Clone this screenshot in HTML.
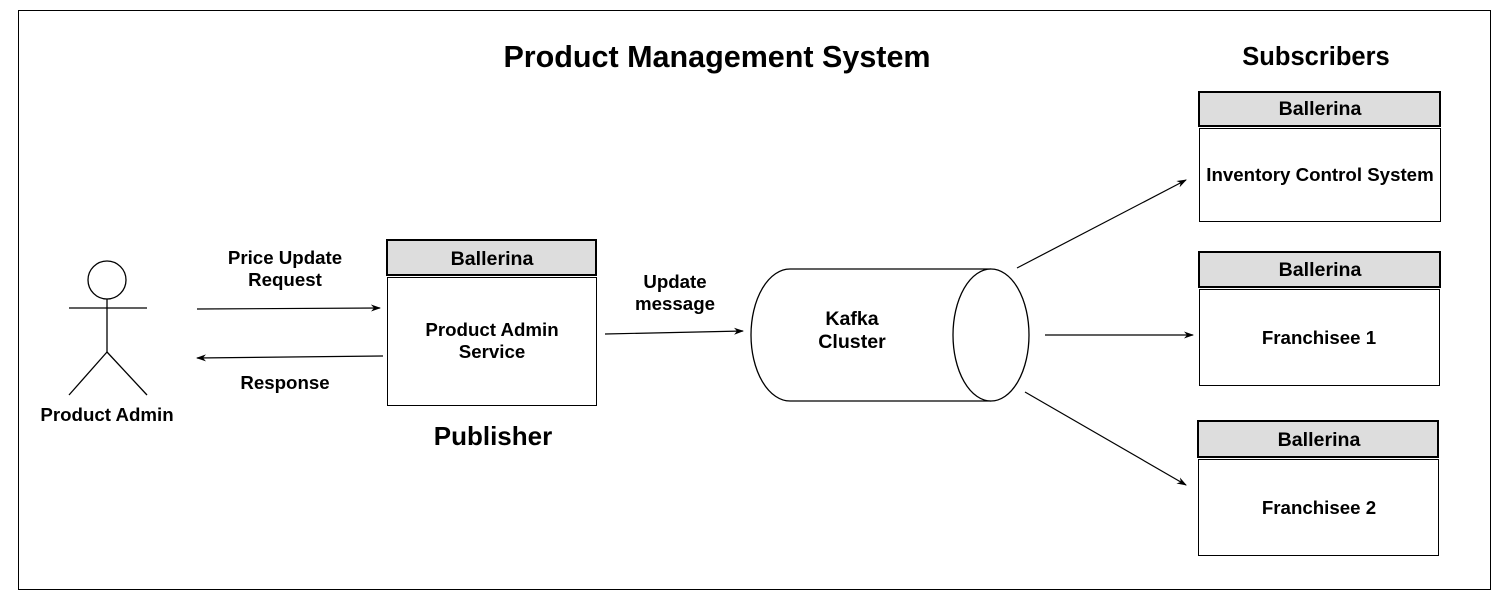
<!DOCTYPE html>
<html><head><meta charset="utf-8"><style>
html,body{margin:0;padding:0;background:#fff;}
svg{display:block;}
text{font-family:"Liberation Sans",Arial,sans-serif;font-weight:bold;fill:#000;}
</style></head><body>
<svg width="1507" height="601" viewBox="0 0 1507 601" xmlns="http://www.w3.org/2000/svg">
<defs>
<marker id="a" viewBox="0 0 10 10" refX="9" refY="5" markerWidth="10" markerHeight="10" markerUnits="userSpaceOnUse" orient="auto">
<path d="M0,1.5 L10,5 L0,8.5 L3,5 z" fill="#000"/>
</marker>
</defs>
<rect x="18.5" y="10.5" width="1472" height="579" fill="#fff" stroke="#000" stroke-width="1"/>
<text x="717" y="67" font-size="30.5" text-anchor="middle">Product Management System</text>
<text x="1316" y="65" font-size="25.5" text-anchor="middle">Subscribers</text>

<g stroke="#000" stroke-width="1.3" fill="none">
<circle cx="107" cy="280" r="19" fill="#fff"/>
<line x1="107" y1="299" x2="107" y2="352"/>
<line x1="69" y1="308" x2="147" y2="308"/>
<line x1="107" y1="352" x2="69" y2="395"/>
<line x1="107" y1="352" x2="147" y2="395"/>
</g>
<text x="107" y="421" font-size="18.7" text-anchor="middle">Product Admin</text>

<g stroke="#000" stroke-width="1.2" marker-end="url(#a)">
<line x1="197" y1="309" x2="380" y2="308"/>
<line x1="383" y1="356" x2="197" y2="358"/>
<line x1="605" y1="334" x2="743" y2="331"/>
<line x1="1017" y1="268" x2="1186" y2="180"/>
<line x1="1045" y1="335" x2="1193" y2="335"/>
<line x1="1025" y1="392" x2="1186" y2="485"/>
</g>
<text x="285" y="264" font-size="18.7" text-anchor="middle">Price Update</text>
<text x="285" y="286" font-size="18.7" text-anchor="middle">Request</text>
<text x="285" y="389" font-size="18.7" text-anchor="middle">Response</text>
<text x="675" y="288" font-size="18.7" text-anchor="middle">Update</text>
<text x="675" y="310" font-size="18.7" text-anchor="middle">message</text>

<rect x="387" y="240" width="209" height="35" fill="#ddd" stroke="#000" stroke-width="2"/>
<rect x="387.5" y="277.5" width="209" height="128" fill="#fff" stroke="#000" stroke-width="1"/>
<text x="492" y="265" font-size="19.6" text-anchor="middle">Ballerina</text>
<text x="492" y="336" font-size="18.7" text-anchor="middle">Product Admin</text>
<text x="492" y="358" font-size="18.7" text-anchor="middle">Service</text>
<text x="493" y="445" font-size="26" text-anchor="middle">Publisher</text>

<path d="M790,269 L991,269 M790,401 L991,401 M790,269 A39,66 0 0 0 790,401" stroke="#000" stroke-width="1.3" fill="none"/>
<ellipse cx="991" cy="335" rx="38" ry="66" fill="#fff" stroke="#000" stroke-width="1.3"/>
<text x="852" y="325" font-size="19.6" text-anchor="middle">Kafka</text>
<text x="852" y="348" font-size="19.6" text-anchor="middle">Cluster</text>

<rect x="1199" y="92" width="241" height="34" fill="#ddd" stroke="#000" stroke-width="2"/>
<rect x="1199.5" y="128.5" width="241" height="93" fill="#fff" stroke="#000" stroke-width="1"/>
<text x="1320" y="115" font-size="19.6" text-anchor="middle">Ballerina</text>
<text x="1320" y="181" font-size="18.7" text-anchor="middle">Inventory Control System</text>

<rect x="1199" y="252" width="241" height="35" fill="#ddd" stroke="#000" stroke-width="2"/>
<rect x="1199.5" y="289.5" width="240" height="96" fill="#fff" stroke="#000" stroke-width="1"/>
<text x="1320" y="276" font-size="19.6" text-anchor="middle">Ballerina</text>
<text x="1319" y="344" font-size="18.7" text-anchor="middle">Franchisee 1</text>

<rect x="1198" y="421" width="240" height="36" fill="#ddd" stroke="#000" stroke-width="2"/>
<rect x="1198.5" y="459.5" width="240" height="96" fill="#fff" stroke="#000" stroke-width="1"/>
<text x="1319" y="446" font-size="19.6" text-anchor="middle">Ballerina</text>
<text x="1319" y="514" font-size="18.7" text-anchor="middle">Franchisee 2</text>
</svg>
</body></html>
